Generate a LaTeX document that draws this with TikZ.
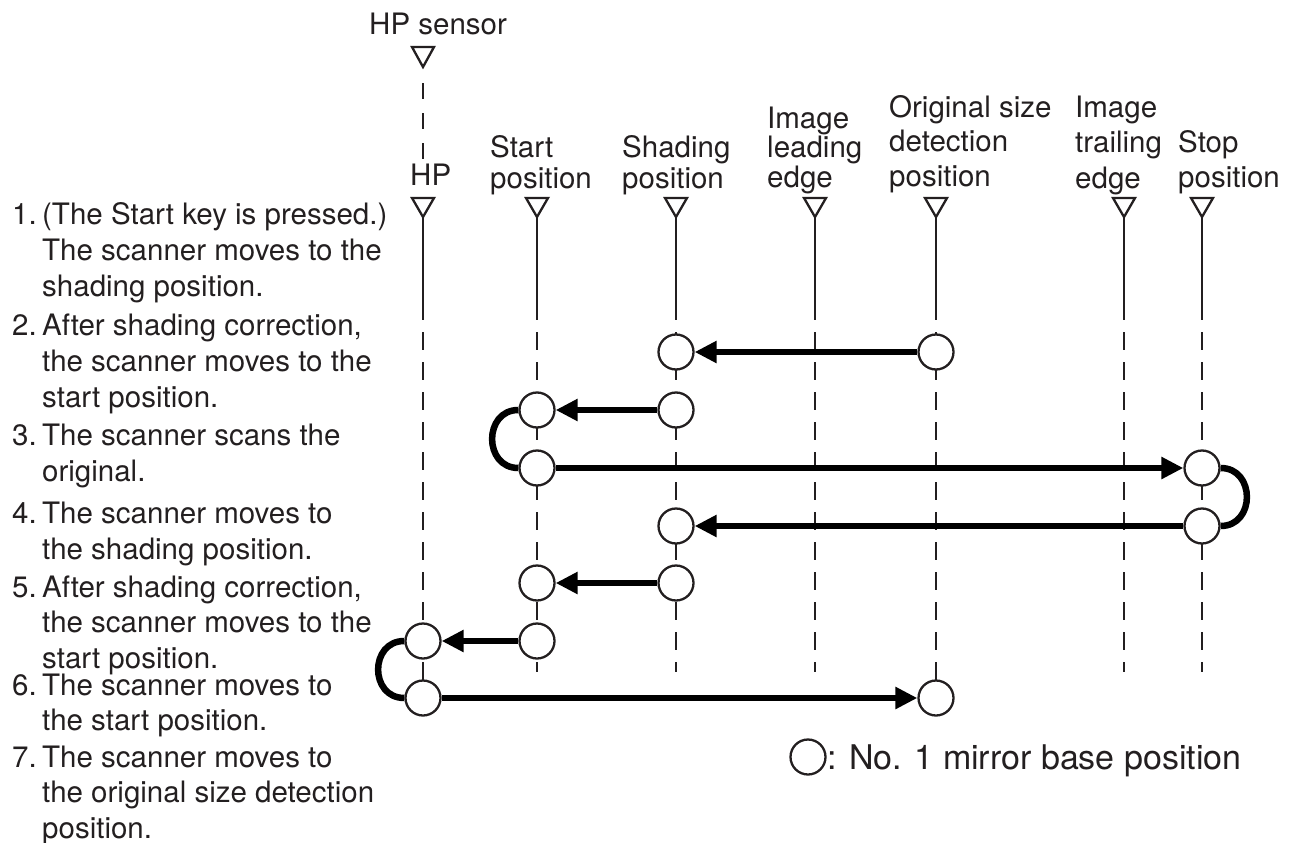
\documentclass[tikz,border=0pt]{standalone}
\usepackage{fontspec}
\setmainfont{TeX Gyre Heros}
\usetikzlibrary{arrows.meta}
\definecolor{ink}{RGB}{35,31,32}
\pgfdeclarelayer{bg}
\pgfsetlayers{bg,main}
\newcommand\vl[2]{\vtop{\baselineskip=#1pt\relax #2}}
\newcommand\myind{\kern30pt}
\newcommand\mynum[1]{\hbox to 30pt{#1\hfil}}
\begin{document}
\begin{tikzpicture}[x=1pt,y=-1pt,
  lbl/.style={inner sep=0pt, anchor=base west, font=\fontsize{29.5}{36}\selectfont, text=ink},
  thinline/.style={draw=ink, line width=2.3pt},
  dashln/.style={draw=ink, line width=2.3pt, dash pattern=on 18pt off 12pt},
  mirror/.style={circle, draw=ink, line width=2.3pt, fill=white, minimum size=35pt, inner sep=0pt},
  mv/.style={draw=black, line width=6.5pt, -{Triangle[length=22pt,width=21pt]}},
  uturn/.style={draw=black, line width=6.5pt}]
\useasboundingbox (0,0) rectangle (1298,843);

% column markers and lines
\foreach \x in {423,537,676,815,936,1124,1202}{
  \draw[thinline] (\x-11,198) -- (\x+11,198) -- (\x,217) -- cycle;
  \draw[thinline] (\x,217) -- (\x,320);
}
\foreach \x in {537,676,815,1124,1202}{
  \draw[dashln] (\x,332) -- (\x,672);
}
\foreach \x in {423,936}{
  \draw[dashln] (\x,332) -- (\x,698);
}
% HP sensor
\draw[thinline] (412,47) -- (434,47) -- (423,67) -- cycle;
\draw[thinline, dash pattern=on 16pt off 14pt] (423,83) -- (423,160);

% labels
\node[lbl] (lhps) at (369,35) {HP sensor};
\node[lbl] (lhp) at (410,185) {HP};
\node[lbl] (lst) at (490,157) {\vl{31}{\hbox{Start}\hbox{position}}};
\node[lbl] (lsh) at (622,157) {\vl{31}{\hbox{Shading}\hbox{position}}};
\node[lbl] (lle) at (767,128) {\vl{29.5}{\hbox{Image}\hbox{leading}\hbox{edge}}};
\node[lbl] (los) at (889,117) {\vl{35}{\hbox{Original size}\hbox{detection}\hbox{position}}};
\node[lbl] (lte) at (1075,117) {\vl{35.5}{\hbox{Image}\hbox{trailing}\hbox{edge}}};
\node[lbl] (lsp) at (1178,152) {\vl{35}{\hbox{Stop}\hbox{position}}};

% steps text
\node[lbl] (i1) at (12,224) {\vl{36}{\hbox{\mynum{1.}(The Start key is pressed.)}\hbox{\myind The scanner moves to the}\hbox{\myind shading position.}}};
\node[lbl] (i2) at (12,335) {\vl{36}{\hbox{\mynum{2.}After shading correction,}\hbox{\myind the scanner moves to the}\hbox{\myind start position.}}};
\node[lbl] (i3) at (12,445) {\vl{36}{\hbox{\mynum{3.}The scanner scans the}\hbox{\myind original.}}};
\node[lbl] (i4) at (12,523) {\vl{36}{\hbox{\mynum{4.}The scanner moves to}\hbox{\myind the shading position.}}};
\node[lbl] (i5) at (12,597) {\vl{35.5}{\hbox{\mynum{5.}After shading correction,}\hbox{\myind the scanner moves to the}\hbox{\myind start position.}}};
\node[lbl] (i6) at (12,695) {\vl{35.5}{\hbox{\mynum{6.}The scanner moves to}\hbox{\myind the start position.}}};
\node[lbl] (i7) at (12,767) {\vl{35.5}{\hbox{\mynum{7.}The scanner moves to}\hbox{\myind the original size detection}\hbox{\myind position.}}};

% mirror base positions
\node[mirror] (r1sh) at (676,352) {};
\node[mirror] (r1os) at (936,352) {};
\node[mirror] (r2st) at (537,410) {};
\node[mirror] (r2sh) at (676,410) {};
\node[mirror] (r3st) at (537,468) {};
\node[mirror] (r3sp) at (1202,468) {};
\node[mirror] (r4sh) at (676,526) {};
\node[mirror] (r4sp) at (1202,526) {};
\node[mirror] (r5st) at (537,583) {};
\node[mirror] (r5sh) at (676,583) {};
\node[mirror] (r6hp) at (423,641) {};
\node[mirror] (r6st) at (537,641) {};
\node[mirror] (r7hp) at (423,698) {};
\node[mirror] (r7os) at (936,698) {};

% movements
\draw[mv] (r1os) -- (r1sh);
\draw[mv] (r2sh) -- (r2st);
\draw[mv] (r3st) -- (r3sp);
\draw[mv] (r4sp) -- (r4sh);
\draw[mv] (r5sh) -- (r5st);
\draw[mv] (r6st) -- (r6hp);
\draw[mv] (r7hp) -- (r7os);
\begin{pgfonlayer}{bg}
\draw[uturn] (r2st.west) to[out=180,in=180,distance=35pt] (r3st.west);
\draw[uturn] (r3sp.east) to[out=0,in=0,distance=35pt] (r4sp.east);
\draw[uturn] (r6hp.west) to[out=180,in=180,distance=35pt] (r7hp.west);
\end{pgfonlayer}

% legend
\node[mirror] (leg) at (808,757) {};
\node[lbl, font=\fontsize{34}{40}\selectfont] (legt) at (827,769) {: No. 1 mirror base position};
\end{tikzpicture}
\end{document}
